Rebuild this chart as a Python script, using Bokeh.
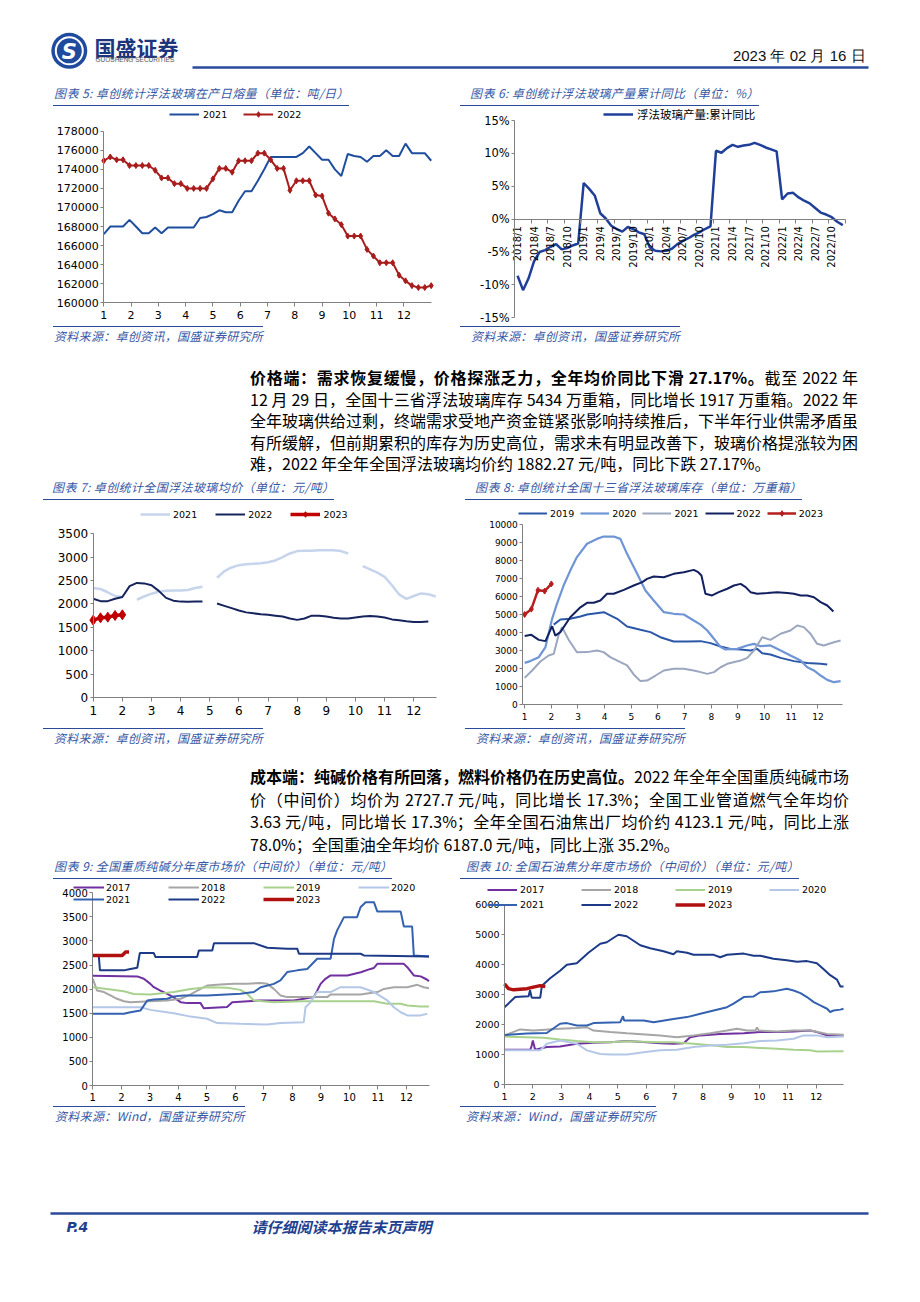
import numpy as np
from bokeh.plotting import figure
from bokeh.models import Range1d, Legend, LegendItem, FixedTicker, PrintfTickFormatter, Div, Spacer
from bokeh.layouts import column, row
from bokeh.core.properties import value
from bokeh.embed import file_html
from bokeh.resources import INLINE

# ---------------- data ----------------
month_ticks = list(range(1, 13))

# 图表5 卓创统计浮法玻璃在产日熔量 (weekly, 52 weeks)
melt_weeks = list(range(52))
melt_2021 = [167200, 168000, 168000, 168000, 168700, 168000, 167300, 167300, 167900, 167300,
             167900, 167900, 167900, 167900, 167900, 168900, 169000, 169300, 169700, 169500,
             169500, 170700, 171700, 171700, 172800, 174000, 175300, 175300, 175300, 175300,
             175300, 175700, 176400, 175700, 175000, 175000, 174000, 173300, 175600, 175400,
             175300, 174800, 175400, 175400, 176000, 175400, 175400, 176700, 175700, 175700,
             175700, 174900]
melt_2022 = [174900, 175300, 175000, 175000, 174400, 174400, 174400, 174400, 173900, 173100,
             173100, 172500, 172500, 172000, 172000, 172000, 172000, 173000, 174100, 174100,
             173700, 174900, 174900, 174900, 175700, 175700, 175000, 174100, 174100, 171800,
             172800, 172800, 172800, 171300, 171200, 169400, 168800, 168200, 167000, 167000,
             167000, 165600, 164900, 164200, 164200, 164200, 162900, 162300, 161800, 161600,
             161600, 161800]

# 图表6 浮法玻璃产量:累计同比 (%), 2018/1 - 2022/12
yoy_labels = [f"{y}/{m}" for y in range(2018, 2023) for m in range(1, 13)]
yoy_2018 = [-8.6, -10.8, -9.0, -6.4, -5.0, -4.7, -4.2, -3.8, -4.6, -4.4, -4.0, -3.7]
yoy_2019 = [5.5, 4.6, 3.6, 0.9, 0.1, -1.0, -1.5, -1.9, -1.2, -1.5, -2.0, -2.3]
yoy_2020 = [-4.3, -4.8, -4.9, -4.8, -4.5, -3.8, -3.3, -2.9, -2.4, -2.0, -1.5, -1.1]
yoy_2021 = [10.4, 10.1, 10.8, 11.3, 11.0, 11.2, 11.3, 11.6, 11.3, 10.9, 10.6, 10.3]
yoy_2022 = [3.0, 3.9, 4.0, 3.3, 2.8, 2.4, 1.7, 1.0, 0.7, 0.3, -0.4, -0.9]

# 图表7 全国浮法玻璃均价 (weekly, 4 per month; None = no quote)
price_weeks = list(range(48))
price_2021 = [2340, 2320, 2250, 2170, 2150, None, 2090, 2160, 2220, 2260, 2280, 2290, 2290, 2300,
              2340, 2370, None, 2560, 2700, 2780, 2830, 2850, 2860, 2870, 2890, 2930, 3000, 3080,
              3130, 3140, 3140, 3150, 3150, 3150, 3130, 3080, None, 2810, 2740, 2670, 2580, 2400,
              2200, 2110, 2170, 2225, 2210, 2160]
price_2022 = [2110, 2060, 2060, 2110, 2150, 2380, 2450, 2440, 2400, 2280, 2130, 2070, 2050, 2045,
              2050, 2050, None, 2010, 1960, 1910, 1860, 1820, 1800, 1780, 1770, 1750, 1730, 1690,
              1660, 1690, 1750, 1750, 1730, 1705, 1690, 1690, 1710, 1730, 1740, 1730, 1710, 1670,
              1650, 1630, 1615, 1615, 1625, None]
price_2023 = [1654, 1704, 1718, 1754, 1768]

# 图表8 全国十三省浮法玻璃库存 (month position, value)
inv_m_2019 = [2.09, 2.34, 2.71, 3.09, 3.34, 3.97, 4.47, 4.84, 5.34, 5.72, 6.09, 6.59, 7.09, 7.60,
              7.97, 8.35, 8.72, 9.10, 9.47, 9.72, 9.91, 10.22, 10.60, 11.10, 11.60, 12.10, 12.35]
inv_2019 = [4440, 4720, 4760, 4890, 5000, 5130, 4760, 4330, 4150, 4020, 3740, 3500, 3500, 3520,
            3410, 3220, 3090, 3060, 3000, 3090, 2850, 2780, 2590, 2410, 2310, 2260, 2220]
inv_m_2020 = [1.00, 1.21, 1.53, 1.78, 2.03, 2.21, 2.46, 2.71, 2.96, 3.34, 3.71, 3.96, 4.34, 4.59,
              4.84, 5.22, 5.53, 5.84, 6.22, 6.59, 6.97, 7.34, 7.60, 7.85, 8.10, 8.35, 8.53, 8.97,
              9.34, 9.60, 9.85, 10.22, 10.60, 10.97, 11.35, 11.60, 11.85, 12.10, 12.35, 12.60, 12.85]
inv_2020 = [2310, 2410, 2630, 3190, 4760, 5590, 6610, 7440, 8190, 8930, 9200, 9330, 9330, 9200,
            8370, 7260, 6330, 5780, 5130, 5040, 5000, 4670, 4440, 4110, 3650, 3190, 3060, 3090,
            3280, 3370, 3240, 3280, 3000, 2720, 2440, 2070, 1890, 1610, 1370, 1240, 1300]
inv_m_2021 = [1.00, 1.28, 1.59, 1.90, 2.09, 2.28, 2.40, 2.65, 2.96, 3.34, 3.71, 3.96, 4.21, 4.59,
              4.84, 5.09, 5.34, 5.59, 5.91, 6.22, 6.59, 6.97, 7.34, 7.60, 7.85, 8.10, 8.35, 8.60,
              9.10, 9.35, 9.60, 9.91, 10.22, 10.60, 10.97, 11.22, 11.47, 11.72, 11.97, 12.22,
              12.60, 12.85]
inv_2021 = [1480, 1890, 2390, 2720, 2810, 3900, 4300, 3600, 2900, 2910, 3000, 2910, 2630, 2350,
            2170, 1670, 1300, 1330, 1610, 1890, 1980, 1980, 1890, 1800, 1700, 1800, 2070, 2260,
            2440, 2590, 3000, 3740, 3590, 3930, 4110, 4390, 4300, 3930, 3370, 3280, 3460, 3560]
inv_m_2022 = [1.00, 1.25, 1.53, 1.78, 2.03, 2.15, 2.34, 2.71, 3.09, 3.34, 3.59, 3.84, 4.09, 4.34,
              4.72, 5.09, 5.41, 5.59, 5.84, 6.22, 6.59, 6.97, 7.34, 7.51, 7.63, 7.78, 8.03, 8.28,
              8.60, 8.85, 9.10, 9.29, 9.47, 9.72, 10.10, 10.47, 10.85, 11.10, 11.35, 11.60, 11.85,
              12.10, 12.35, 12.58]
inv_2022 = [3800, 3870, 3590, 3520, 4350, 3830, 4020, 4850, 5400, 5650, 5650, 5780, 6150, 6150,
            6370, 6610, 6800, 6980, 7110, 7070, 7260, 7350, 7480, 7350, 7170, 6150, 6060, 6240,
            6430, 6610, 6700, 6520, 6240, 6150, 6190, 6240, 6200, 6150, 6060, 6060, 5960, 5690,
            5500, 5170]
inv_m_2023 = [1.00, 1.25, 1.50, 1.75, 2.00]
inv_2023 = [5000, 5300, 6350, 6300, 6700]

# 图表9 全国重质纯碱分年度市场价(中间价)
ash_m_2017 = [1.00, 2.56, 2.79, 3.02, 3.14, 3.37, 3.61, 3.84, 4.08, 4.31, 4.78, 4.89, 5.71, 5.89,
              6.88, 8.05, 8.75, 8.87, 8.99, 9.16, 9.34, 9.93, 10.40, 10.74, 10.86, 10.98, 11.91,
              12.03, 12.26, 12.50, 12.73, 12.79]
ash_2017 = [2280, 2265, 2215, 2110, 2040, 1970, 1900, 1830, 1730, 1710, 1710, 1605, 1630, 1730,
            1765, 1765, 1835, 1970, 2110, 2215, 2285, 2285, 2350, 2420, 2440, 2525, 2525, 2455,
            2285, 2265, 2195, 2165]
ash_m_2018 = [1.00, 1.15, 1.39, 1.62, 1.85, 2.09, 2.32, 3.02, 3.61, 4.08, 4.43, 4.78, 5.01, 5.48,
              5.95, 6.41, 6.88, 7.12, 7.35, 7.58, 7.82, 8.52, 9.22, 9.34, 9.69, 10.39, 10.98,
              11.21, 11.56, 12.03, 12.38, 12.61, 12.79]
ash_2018 = [2215, 1970, 1940, 1870, 1800, 1750, 1730, 1750, 1765, 1800, 1890, 2005, 2075, 2095,
            2110, 2110, 2130, 2110, 2005, 1870, 1835, 1835, 1835, 1890, 1890, 1890, 1940, 2005,
            2040, 2040, 2090, 2040, 2020]
ash_m_2019 = [1.00, 1.50, 2.09, 2.44, 3.02, 3.84, 4.43, 5.01, 5.71, 6.18, 6.42, 6.65, 7.35, 8.29,
              9.69, 10.86, 11.33, 11.80, 12.03, 12.50, 12.79]
ash_2019 = [2040, 2005, 1955, 1900, 1890, 1940, 2005, 2040, 2030, 1985, 1900, 1765, 1730, 1750,
            1750, 1750, 1695, 1695, 1660, 1640, 1640]
ash_m_2020 = [1.00, 2.67, 3.02, 3.84, 4.43, 5.01, 5.36, 6.18, 7.12, 7.58, 8.40, 8.46, 8.64, 8.87,
              9.34, 9.69, 10.39, 10.86, 11.33, 11.56, 11.80, 12.03, 12.50, 12.73]
ash_2020 = [1625, 1625, 1570, 1500, 1430, 1385, 1295, 1280, 1265, 1295, 1315, 1625, 1730, 1940,
            1940, 2040, 2040, 1940, 1765, 1625, 1520, 1455, 1455, 1490]
ash_m_2021 = [1.00, 2.09, 2.32, 2.67, 2.91, 3.14, 3.61, 3.84, 4.19, 5.01, 6.18, 6.65, 6.89, 7.35,
              7.58, 7.82, 8.17, 8.52, 8.64, 8.87, 9.34, 9.46, 9.57, 9.81, 10.27, 10.39, 10.57,
              10.86, 10.98, 11.80, 11.91, 12.20, 12.26, 12.79]
ash_2021 = [1490, 1490, 1520, 1555, 1765, 1785, 1800, 1850, 1870, 1870, 1905, 1940, 2040, 2110,
            2180, 2355, 2390, 2420, 2490, 2630, 2630, 3045, 3220, 3495, 3495, 3700, 3805, 3805,
            3610, 3610, 3300, 3300, 2700, 2680]
ash_m_2022 = [1.00, 1.21, 1.25, 2.09, 2.32, 2.56, 2.65, 3.14, 3.20, 4.66, 4.72, 5.19, 5.25, 6.65,
              7.12, 7.82, 8.17, 8.23, 10.39, 10.51, 12.79]
ash_2022 = [2700, 2700, 2390, 2390, 2420, 2445, 2750, 2750, 2665, 2665, 2800, 2800, 2955, 2955,
            2860, 2840, 2840, 2735, 2735, 2700, 2680]
ash_m_2023 = [1.00, 2.03, 2.15, 2.27]
ash_2023 = [2700, 2700, 2770, 2770]

# 图表10 全国石油焦分年度市场价(中间价)
coke_m_2017 = [1.00, 1.91, 1.96, 2.00, 2.08, 2.49, 2.96, 3.55, 4.14, 4.73, 5.32, 6.02, 6.49, 6.96,
               7.32, 7.55, 7.91, 8.61, 9.44, 10.02, 10.61, 11.20, 11.79, 12.02, 12.38, 12.96]
coke_2017 = [1160, 1160, 1300, 1470, 1160, 1250, 1270, 1360, 1390, 1410, 1450, 1410, 1380, 1360,
             1380, 1580, 1640, 1690, 1710, 1750, 1750, 1770, 1800, 1750, 1640, 1640]
coke_m_2018 = [1.00, 1.55, 2.02, 2.96, 3.55, 3.91, 4.14, 4.73, 5.32, 6.49, 7.08, 7.67, 8.26, 8.85,
               9.20, 9.55, 9.85, 9.91, 9.97, 10.61, 11.20, 11.79, 12.38, 12.96]
coke_2018 = [1640, 1840, 1800, 1860, 1890, 1910, 1800, 1750, 1710, 1640, 1580, 1640, 1710, 1800,
             1860, 1800, 1800, 1900, 1800, 1770, 1800, 1800, 1690, 1660]
coke_m_2019 = [1.00, 1.79, 2.38, 2.96, 3.55, 4.14, 4.73, 5.32, 6.49, 6.96, 7.67, 8.38, 8.85, 9.44,
               10.02, 10.61, 11.20, 11.79, 12.02, 12.96]
coke_2019 = [1600, 1580, 1560, 1500, 1450, 1410, 1410, 1440, 1410, 1410, 1360, 1300, 1250, 1250,
             1220, 1190, 1160, 1140, 1100, 1110]
coke_m_2020 = [1.00, 1.79, 2.26, 2.49, 2.96, 3.55, 3.91, 4.38, 4.73, 5.32, 5.91, 6.49, 7.08, 7.67,
               8.26, 8.85, 9.44, 10.02, 10.61, 11.20, 11.55, 12.02, 12.38, 12.96]
coke_2020 = [1140, 1140, 1140, 1360, 1470, 1360, 1140, 1020, 1000, 1000, 1080, 1140, 1160, 1250,
             1300, 1330, 1380, 1450, 1470, 1530, 1640, 1640, 1580, 1600]
coke_m_2021 = [1.00, 1.79, 2.49, 2.96, 3.20, 3.55, 3.91, 4.14, 5.08, 5.18, 5.22, 5.91, 6.26, 6.96,
               7.44, 7.91, 8.38, 8.85, 9.08, 9.44, 9.79, 10.02, 10.49, 10.96, 11.20, 11.44, 11.67,
               11.91, 12.14, 12.38, 12.49, 12.61, 12.85, 12.96]
coke_2021 = [1650, 1700, 1720, 2030, 2050, 1970, 1970, 2050, 2080, 2280, 2140, 2140, 2080, 2190,
             2250, 2360, 2470, 2580, 2700, 2920, 2940, 3080, 3110, 3200, 3140, 3050, 2920, 2750,
             2640, 2530, 2420, 2470, 2500, 2530]
coke_m_2022 = [1.00, 1.38, 1.85, 1.90, 1.96, 2.26, 2.32, 2.61, 2.96, 3.20, 3.55, 3.96, 4.38, 4.61,
               4.85, 5.02, 5.31, 5.55, 5.79, 6.14, 6.61, 6.96, 7.08, 7.44, 7.67, 8.38, 8.61, 8.85,
               9.44, 9.79, 10.02, 10.49, 10.96, 11.32, 11.67, 12.02, 12.26, 12.49, 12.73, 12.85,
               12.96]
coke_2022 = [2580, 2920, 2950, 3150, 2900, 2900, 3300, 3550, 3800, 4000, 4050, 4400, 4700, 4750,
             4900, 5000, 4950, 4800, 4650, 4550, 4450, 4350, 4450, 4400, 4330, 4330, 4250, 4330,
             4370, 4300, 4300, 4200, 4150, 4100, 4120, 4050, 3850, 3650, 3500, 3270, 3270]
coke_m_2023 = [1.00, 1.14, 1.32, 1.79, 2.02, 2.26, 2.44]
coke_2023 = [3360, 3200, 3160, 3200, 3250, 3300, 3270]

# ---------------- styles ----------------
CJK = "Noto Sans CJK SC"
TF = "DejaVu Sans"
RULE = "#2a4b9b"
TBLUE = "#3858a5"
AX = "#808080"
C17, C18, C19, C20 = "#7030a0", "#a6a6a6", "#a9d18e", "#b4c7e7"
C21, C22, C23 = "#3462b0", "#1c3a87", "#b01010"


def make_fig(w, h, xlim, ylim, fl, fr, ft, fb, fs):
    """Frame covers the whole canvas; the axes sit at the data limits (fixed_location)."""
    x0, x1 = xlim
    y0, y1 = ylim
    ux = (x1 - x0) / (fr - fl)
    uy = (y1 - y0) / (fb - ft)
    p = figure(width=w, height=h,
               x_range=Range1d(x0 - fl * ux, x1 + (w - fr) * ux),
               y_range=Range1d(y0 - (h - fb) * uy, y1 + ft * uy),
               min_border=0, toolbar_location=None, output_backend="svg", outline_line_color=None)
    p.grid.visible = False
    for ax in p.axis:
        ax.axis_line_color = AX
        ax.major_tick_line_color = AX
        ax.minor_tick_line_color = None
        ax.major_label_text_font = TF
        ax.major_label_text_font_size = fs
        ax.major_label_text_color = "#000000"
    p.xaxis.fixed_location = y0
    p.yaxis.fixed_location = x0
    p.xaxis.bounds = (x0, x1)
    p.yaxis.bounds = (y0, y1)
    p.xaxis.major_tick_out = 4
    p.xaxis.major_tick_in = 0
    p.xaxis.major_label_standoff = 4
    p.yaxis.major_tick_out = 3
    p.yaxis.major_tick_in = 0
    p.yaxis.major_label_standoff = 2
    return p


def add_legend(p, items, loc, gw=30, gh=14, so=3, sp=10, fs="9.5px", font=TF, ncols=None, lw=20):
    kw = {"ncols": ncols} if ncols else {}
    leg = Legend(items=items, location=loc, orientation="horizontal", border_line_color=None,
                 background_fill_alpha=0, padding=0, margin=0, glyph_width=gw, glyph_height=gh,
                 label_height=gh, label_standoff=so, spacing=sp, label_width=lw,
                 label_text_font=font, label_text_font_size=fs, label_text_color="#000000", **kw)
    p.add_layout(leg, "center")


def title_div(txt, w, pl):
    html = (f'<div style="height:26px;box-sizing:border-box;border-bottom:1.5px solid {RULE};'
            f'padding:5px 0 0 {pl}px;font-family:\'{CJK}\';font-style:italic;font-size:12px;'
            f'letter-spacing:0.4px;line-height:15px;color:{TBLUE};white-space:nowrap;">{txt}</div>')
    return Div(text=html, width=w, height=26, margin=0, styles={"overflow": "visible"})


def source_div(txt, w, pl):
    html = (f'<div style="height:19px;box-sizing:border-box;border-top:1.5px solid {RULE};'
            f'padding:1px 0 0 {pl}px;font-family:\'{CJK}\';font-style:italic;font-size:12px;'
            f'letter-spacing:0.3px;line-height:15px;color:{TBLUE};white-space:nowrap;">{txt}</div>')
    return Div(text=html, width=w, height=19, margin=0, styles={"overflow": "visible"})


def para_div(lines, h, pt, lh):
    inner = "".join(f'<div style="text-align:justify;text-align-last:justify;white-space:nowrap;">{ln}</div>'
                    for ln in lines[:-1])
    inner += f'<div style="white-space:nowrap;">{lines[-1]}</div>'
    html = (f'<div style="height:{h}px;box-sizing:border-box;padding-top:{pt}px;font-family:\'{CJK}\';'
            f'font-size:16px;line-height:{lh}px;color:#000;">{inner}</div>')
    return Div(text=html, width=618, height=h, margin=0, styles={"overflow": "visible"})


# ---------------- header ----------------
hdr = figure(width=904, height=72, x_range=Range1d(0, 904), y_range=Range1d(72, 0),
             x_axis_type=None, y_axis_type=None, min_border=0, toolbar_location=None,
             output_backend="svg", outline_line_color=None)
hdr.grid.visible = False
hdr.circle(x=[60.8], y=[42.3], radius=18, fill_color="#1f4a9e", line_color=None)
hdr.annulus(x=[60.8], y=[42.3], inner_radius=12.5, outer_radius=14.5, fill_color="white", line_color=None)
hdr.text(x=[60.8], y=[43], text=["S"], text_font=value(TF), text_font_size="21px",
         text_font_style="bold italic", text_color="white", text_align="center", text_baseline="middle")
hdr.text(x=[86], y=[38], text=["国盛证券"], text_font=value(CJK), text_font_size="21px",
         text_font_style="bold", text_color="#1c357c", text_align="left", text_baseline="middle")
hdr.text(x=[87], y=[51], text=["GUOSHENG SECURITIES"], text_font=value("Liberation Sans"),
         text_font_size="6.5px", text_color="#555555", text_align="left", text_baseline="middle")
hdr.text(x=[857], y=[47], text=["2023 年 02 月 16 日"], text_font=value("Liberation Sans"),
         text_font_size="15px", text_color="#111111", text_align="right", text_baseline="middle")
hdr.segment(x0=[184], y0=[59], x1=[860], y1=[59], line_color=RULE, line_width=2.5)

# ---------------- 图表5 ----------------
x5 = [1 + w * 12 / 51 for w in melt_weeks]
p5 = make_fig(387, 220, (1, 13), (160000, 178000), 50.3, 377.7, 24.7, 196.3, "11px")
p5.xaxis.ticker = FixedTicker(ticks=month_ticks)
p5.yaxis.ticker = FixedTicker(ticks=list(range(160000, 178001, 2000)))
p5.yaxis.formatter = PrintfTickFormatter(format="%d")
r5a = p5.line(x5, melt_2021, line_color="#1f4e9e", line_width=2)
r5b = p5.line(x5, melt_2022, line_color="#a81c1c", line_width=2)
r5c = p5.scatter(x5, melt_2022, marker="diamond", size=6, color="#a81c1c")
add_legend(p5, [LegendItem(label="2021", renderers=[r5a]), LegendItem(label="2022", renderers=[r5b, r5c])],
           (116, 205), gw=30, so=4, sp=16)

# ---------------- 图表6 ----------------
yoy_all = yoy_2018 + yoy_2019 + yoy_2020 + yoy_2021 + yoy_2022
x6 = list(range(len(yoy_labels)))
p6 = make_fig(396, 220, (-0.5, 59.5), (-15, 15), 54.3, 385, 14, 211.3, "11.5px")
p6.yaxis.ticker = FixedTicker(ticks=[-15, -10, -5, 0, 5, 10, 15])
p6.yaxis.formatter = PrintfTickFormatter(format="%d%%")
shown = list(range(0, 60, 3))
p6.xaxis.ticker = FixedTicker(ticks=shown, minor_ticks=[i - 0.5 for i in range(0, 61, 3)])
p6.xaxis.major_label_overrides = {i: yoy_labels[i] for i in shown}
p6.xaxis.major_label_text_font_size = "10px"
p6.xaxis.major_tick_out = 0
p6.xaxis.minor_tick_out = 4
p6.xaxis.minor_tick_in = 0
p6.xaxis.minor_tick_line_color = AX
p6.xaxis.major_label_orientation = np.pi / 2
p6.xaxis.major_label_standoff = 3
p6.xaxis.fixed_location = 0
r6 = p6.line(x6, yoy_all, line_color="#1f3f98", line_width=2.5)
add_legend(p6, [LegendItem(label="浮法玻璃产量:累计同比", renderers=[r6])], (143, 204), gw=30, so=4,
           fs="11.5px", font=CJK)

# ---------------- 图表7 ----------------
x7 = [1 + w * 0.25 for w in price_weeks]
p7 = make_fig(402, 228, (1, 12.78), (0, 3500), 49.7, 393, 33.3, 197, "12px")
p7.xaxis.ticker = FixedTicker(ticks=month_ticks)
p7.yaxis.ticker = FixedTicker(ticks=list(range(0, 3501, 500)))
r7a = p7.line(x7, np.array(price_2021, dtype=float), line_color="#c6d5ec", line_width=2.5)
r7b = p7.line(x7, np.array(price_2022, dtype=float), line_color="#15245c", line_width=2)
x7c = x7[:len(price_2023)]
r7c = p7.line(x7c, price_2023, line_color="#c00000", line_width=3.5)
r7d = p7.scatter(x7c, price_2023, marker="diamond", size=10, color="#c00000")
add_legend(p7, [LegendItem(label="2021", renderers=[r7a]), LegendItem(label="2022", renderers=[r7b]),
                LegendItem(label="2023", renderers=[r7c, r7d])], (97, 207), gw=30, so=3, sp=18)

# ---------------- 图表8 ----------------
p8 = make_fig(390, 228, (0.93, 12.91), (0, 10000), 57.3, 376.7, 24, 204, "9px")
p8.xaxis.ticker = FixedTicker(ticks=month_ticks)
p8.yaxis.ticker = FixedTicker(ticks=list(range(0, 10001, 1000)))
r8a = p8.line(inv_m_2019, inv_2019, line_color="#2c57a8", line_width=2)
r8b = p8.line(inv_m_2020, inv_2020, line_color="#6f95d5", line_width=2.2)
r8c = p8.line(inv_m_2021, inv_2021, line_color="#9ba6bf", line_width=2)
r8d = p8.line(inv_m_2022, inv_2022, line_color="#132060", line_width=2)
r8e = p8.line(inv_m_2023, inv_2023, line_color="#b51f1f", line_width=2.5)
r8f = p8.scatter(inv_m_2023, inv_2023, marker="diamond", size=6, color="#b51f1f")
add_legend(p8, [LegendItem(label="2019", renderers=[r8a]), LegendItem(label="2020", renderers=[r8b]),
                LegendItem(label="2021", renderers=[r8c]), LegendItem(label="2022", renderers=[r8d]),
                LegendItem(label="2023", renderers=[r8e, r8f])], (53, 208), gw=29, so=3, sp=6,
           fs="9.5px")

# ---------------- 图表9 ----------------
p9 = make_fig(385, 227, (1, 12.82), (0, 4000), 39.3, 376.3, 13.3, 206, "10px")
p9.xaxis.ticker = FixedTicker(ticks=month_ticks)
p9.xaxis.major_label_standoff = 3
p9.yaxis.ticker = FixedTicker(ticks=list(range(0, 4001, 500)))
r9 = [p9.line(ash_m_2017, ash_2017, line_color=C17, line_width=2),
      p9.line(ash_m_2018, ash_2018, line_color=C18, line_width=2),
      p9.line(ash_m_2019, ash_2019, line_color=C19, line_width=2),
      p9.line(ash_m_2020, ash_2020, line_color=C20, line_width=2),
      p9.line(ash_m_2021, ash_2021, line_color=C21, line_width=2),
      p9.line(ash_m_2022, ash_2022, line_color=C22, line_width=2),
      p9.line(ash_m_2023, ash_2023, line_color=C23, line_width=3.5)]
years = ["2017", "2018", "2019", "2020", "2021", "2022", "2023"]
add_legend(p9, [LegendItem(label=y, renderers=[r]) for y, r in zip(years, r9)], (20, 201),
           gw=31, gh=12, so=2, sp=0, fs="9.5px", ncols=4, lw=62)

# ---------------- 图表10 ----------------
p10 = make_fig(390, 227, (1, 12.97), (0, 6000), 44, 383.3, 25.3, 205, "9.5px")
p10.xaxis.ticker = FixedTicker(ticks=month_ticks)
p10.yaxis.ticker = FixedTicker(ticks=list(range(0, 6001, 1000)))
r10 = [p10.line(coke_m_2017, coke_2017, line_color=C17, line_width=2),
       p10.line(coke_m_2018, coke_2018, line_color=C18, line_width=2),
       p10.line(coke_m_2019, coke_2019, line_color=C19, line_width=2),
       p10.line(coke_m_2020, coke_2020, line_color=C20, line_width=2),
       p10.line(coke_m_2021, coke_2021, line_color=C21, line_width=2),
       p10.line(coke_m_2022, coke_2022, line_color=C22, line_width=2),
       p10.line(coke_m_2023, coke_2023, line_color=C23, line_width=3.5)]
add_legend(p10, [LegendItem(label=y, renderers=[r]) for y, r in zip(years, r10)], (27, 194.5),
           gw=30, gh=15, so=3, sp=0, fs="9.5px", ncols=4, lw=61)

# ---------------- text ----------------
para1 = [
    '<b>价格端：需求恢复缓慢，价格探涨乏力，全年均价同比下滑 27.17%。</b>截至 2022 年',
    '12 月 29 日，全国十三省浮法玻璃库存 5434 万重箱，同比增长 1917 万重箱。2022 年',
    '全年玻璃供给过剩，终端需求受地产资金链紧张影响持续推后，下半年行业供需矛盾虽',
    '有所缓解，但前期累积的库存为历史高位，需求未有明显改善下，玻璃价格提涨较为困',
    '难，2022 年全年全国浮法玻璃均价约 1882.27 元/吨，同比下跌 27.17%。',
]
para2 = [
    '<b>成本端：纯碱价格有所回落，燃料价格仍在历史高位。</b>2022 年全年全国重质纯碱市场',
    '价（中间价）均价为 2727.7 元/吨，同比增长 17.3%；全国工业管道燃气全年均价',
    '3.63 元/吨，同比增长 17.3%；全年全国石油焦出厂均价约 4123.1 元/吨，同比上涨',
    '78.0%；全国重油全年均价 6187.0 元/吨，同比上涨 35.2%。',
]
src_zc = "资料来源：卓创资讯，国盛证券研究所"
src_wind = "资料来源：Wind，国盛证券研究所"

# ---------------- footer ----------------
ftr = figure(width=904, height=40, x_range=Range1d(0, 904), y_range=Range1d(40, 0),
             x_axis_type=None, y_axis_type=None, min_border=0, toolbar_location=None,
             output_backend="svg", outline_line_color=None)
ftr.grid.visible = False
ftr.segment(x0=[42], y0=[13], x1=[860], y1=[13], line_color=RULE, line_width=2.7)
ftr.text(x=[58], y=[26], text=["P.4"], text_font=value(TF), text_font_size="14px",
         text_font_style="bold italic", text_color="#1f3f8f", text_align="left", text_baseline="middle")
ftr.text(x=[243], y=[26], text=["请仔细阅读本报告末页声明"], text_font=value(CJK), text_font_size="15px",
         text_font_style="bold italic", text_color="#1f3f8f", text_align="left", text_baseline="middle")


def sp(w, h):
    return Spacer(width=w, height=h, margin=0)


row1 = row(sp(45, 265),
           column(title_div("图表 5: 卓创统计浮法玻璃在产日熔量（单位：吨/日）", 387, 1), p5, source_div(src_zc, 387, 1)),
           sp(20, 265),
           column(title_div("图表 6: 卓创统计浮法玻璃产量累计同比（单位：%）", 396, 10), p6, source_div(src_zc, 396, 11)))
prow1 = row(sp(242, 129), para_div(para1, 129, 22, 21.5))
row2 = row(sp(35, 273),
           column(title_div("图表 7: 卓创统计全国浮法玻璃均价（单位：元/吨）", 402, 9), p7, source_div(src_zc, 402, 11)),
           sp(20, 273),
           column(title_div("图表 8: 卓创统计全国十三省浮法玻璃库存（单位：万重箱）", 390, 10), p8, source_div(src_zc, 390, 11)))
prow2 = row(sp(242, 106), para_div(para2, 106, 18, 22.7))
row3 = row(sp(45, 272),
           column(title_div("图表 9: 全国重质纯碱分年度市场价（中间价）（单位：元/吨）", 385, 1), p9, source_div(src_wind, 385, 2)),
           sp(22, 272),
           column(title_div("图表 10: 全国石油焦分年度市场价（中间价）（单位：元/吨）", 390, 6), p10, source_div(src_wind, 390, 6)))

body = column(sp(904, 8), hdr, row1, prow1, row2, prow2, row3, sp(904, 75), ftr)
page = row(sp(8, 1240), body)

open("out.html", "w").write(file_html(page, INLINE))
